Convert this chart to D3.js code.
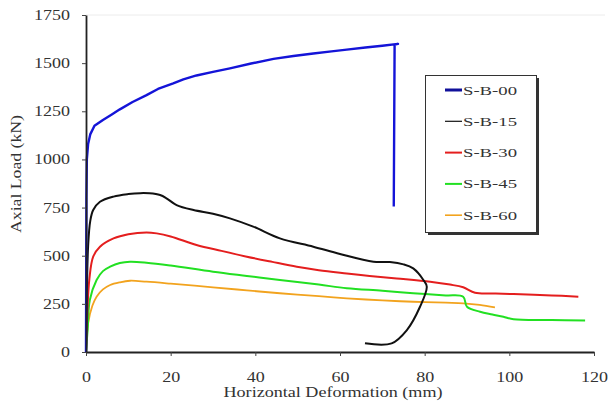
<!DOCTYPE html>
<html>
<head>
<meta charset="utf-8">
<script src="https://cdn.jsdelivr.net/npm/d3@7/dist/d3.min.js"></script>
<style>
  html, body { margin: 0; padding: 0; background: #fff; }
  svg { display: block; }
  text { font-family: "Liberation Serif", "Times New Roman", serif; fill: #333; }
</style>
</head>
<body>
<svg id="chart" width="609" height="408"></svg>
<script>
// ---- data (x: horizontal deformation mm, y: axial load kN) ----
const seriesNames = ["S-B-00", "S-B-15", "S-B-30", "S-B-45", "S-B-60"];
const seriesColors = ["#1414d8", "#111111", "#e41e1e", "#22e022", "#f2a31e"];
const legendColors = ["#10109a", "#111111", "#e41e1e", "#22e022", "#f2a31e"];

const sB00 = [[0,0],[0.05,400],[0.1,800],[0.2,1000],[0.5,1080],[1,1130],[2,1175],[4,1205],[6,1232],[8,1260],[11,1298],[14.3,1334],[17,1366],[20.6,1395],[23,1416],[26.1,1436],[30,1455],[34,1473],[39,1498],[44.3,1522],[49,1537],[53.7,1550],[58,1561],[61.6,1570],[66,1581],[70,1590],[73.7,1600],[72.9,1596],[72.7,755]];
const sB15 = [[0,0],[0.2,300],[0.5,550],[1,680],[1.7,737],[3.3,780],[6.5,807],[10,820],[12.8,825],[15,824],[17.5,815],[19.1,797],[21.4,763],[25.4,737],[30,718],[34,694],[39.5,651],[45.8,590],[53.7,547],[60,509],[67.9,469],[71.8,467],[75,455],[77.3,434],[79.7,374],[80.5,339],[78.9,235],[75.8,114],[72.2,45],[65.9,45]];
const sB30 = [[0,0],[0.3,200],[0.8,380],[1.7,495],[3.3,547],[6.5,590],[10,612],[14.3,621],[16.7,616],[20,600],[26.1,556],[32,525],[38,495],[44,468],[49.8,443],[55,425],[61.6,408],[67,395],[73.4,382],[81.3,365],[86,350],[89.1,336],[91.9,308],[96,304],[101,301],[110,294],[116.3,287]];
const sB45 = [[0,0],[0.4,120],[0.9,270],[2.5,374],[4,420],[5.7,443],[8,462],[10.4,469],[14.3,464],[20,449],[30,417],[38,395],[45.8,374],[55,350],[61.6,331],[70,318],[77.3,305],[85,294],[89.1,287],[90,235],[93.1,209],[96,195],[98.6,183],[101,170],[110,166],[117.9,163]];
const sB60 = [[0,0],[0.5,149],[1.5,240],[2.5,287],[4,325],[5.7,348],[8,362],[10.4,370],[14.3,365],[20,355],[30,336],[38,320],[45.8,305],[55,290],[61.6,279],[70,268],[77.3,261],[85,256],[89.1,253],[93,245],[96.6,232]];
const seriesData = [sB00, sB15, sB30, sB45, sB60];

const xTicks = [0, 20, 40, 60, 80, 100, 120];
const yTicks = [0, 250, 500, 750, 1000, 1250, 1500, 1750];
const xTitle = "Horizontal Deformation (mm)";
const yTitle = "Axial Load (kN)";

// ---- drawing ----
const svg = d3.select("#chart");
svg.append("rect").attr("width", 609).attr("height", 408).attr("fill", "#fff");

const x = d3.scaleLinear().domain([0, 120]).range([86, 594]);
const y = d3.scaleLinear().domain([0, 1750]).range([352, 15]);

// faint top border line
svg.append("line")
  .attr("x1", x(0)).attr("x2", 605)
  .attr("y1", y(1750)).attr("y2", y(1750))
  .attr("stroke", "#ececec").attr("stroke-width", 1);

const smoothLine = d3.line()
  .x(d => x(d[0])).y(d => y(d[1]))
  .curve(d3.curveCatmullRom.alpha(0.5));
const straightLine = d3.line()
  .x(d => x(d[0])).y(d => y(d[1]));

const widths = [2.4, 2, 2, 2, 1.8];
// draw in reverse so blue/black are on top
seriesData.map((d, i) => ({d, i})).reverse().forEach(({d, i}) => {
  svg.append("path")
    .datum(d)
    .attr("fill", "none")
    .attr("stroke", seriesColors[i])
    .attr("stroke-width", widths[i])
    .attr("stroke-linejoin", "round")
    .attr("d", i === 0 ? straightLine : smoothLine);
});

// axes
const fmt = d3.format("d");
const xAxis = svg.append("g")
  .attr("transform", `translate(0,${y(0)})`)
  .call(d3.axisBottom(x).tickValues(xTicks).tickFormat(fmt).tickSize(4).tickPadding(16).tickSizeOuter(0));
const yAxis = svg.append("g")
  .attr("transform", `translate(${x(0)},0)`)
  .call(d3.axisLeft(y).tickValues(yTicks).tickFormat(fmt).tickSize(4).tickPadding(12).tickSizeOuter(0));

[xAxis, yAxis].forEach(g => {
  g.select(".domain").attr("stroke", "#222").attr("stroke-width", 1.8);
  g.selectAll(".tick line").attr("stroke", "#444").attr("stroke-width", 1);
  g.selectAll(".tick text")
    .attr("fill", "#333")
    .style("font-family", '"Liberation Serif", serif')
    .style("font-size", "14px")
    .attr("textLength", function() { return this.textContent.length * 9; })
    .attr("lengthAdjust", "spacingAndGlyphs");
});

// axis titles
svg.append("text")
  .attr("x", 333).attr("y", 397)
  .attr("text-anchor", "middle")
  .style("font-size", "15px")
  .attr("textLength", 219).attr("lengthAdjust", "spacingAndGlyphs")
  .text(xTitle);

svg.append("text")
  .attr("transform", "translate(21,174) rotate(-90)")
  .attr("text-anchor", "middle")
  .style("font-size", "15px")
  .attr("textLength", 118).attr("lengthAdjust", "spacingAndGlyphs")
  .text(yTitle);

// legend
const lg = svg.append("g");
lg.append("rect").attr("x", 428).attr("y", 78).attr("width", 111).attr("height", 157).attr("fill", "#333");
lg.append("rect").attr("x", 425.5).attr("y", 75.5).attr("width", 111).attr("height", 157)
  .attr("fill", "#fff").attr("stroke", "#333").attr("stroke-width", 1);
const legendW = [3, 1.2, 2, 2, 1.6];
seriesNames.forEach((name, i) => {
  const ly = 90 + i * 31.3;
  lg.append("line")
    .attr("x1", 445).attr("x2", 462).attr("y1", ly).attr("y2", ly)
    .attr("stroke", legendColors[i]).attr("stroke-width", legendW[i]);
  lg.append("text")
    .attr("x", 463).attr("y", ly).attr("dy", "0.35em")
    .style("font-size", "13px")
    .attr("textLength", 54).attr("lengthAdjust", "spacingAndGlyphs")
    .text(name);
});
</script>
</body>
</html>
